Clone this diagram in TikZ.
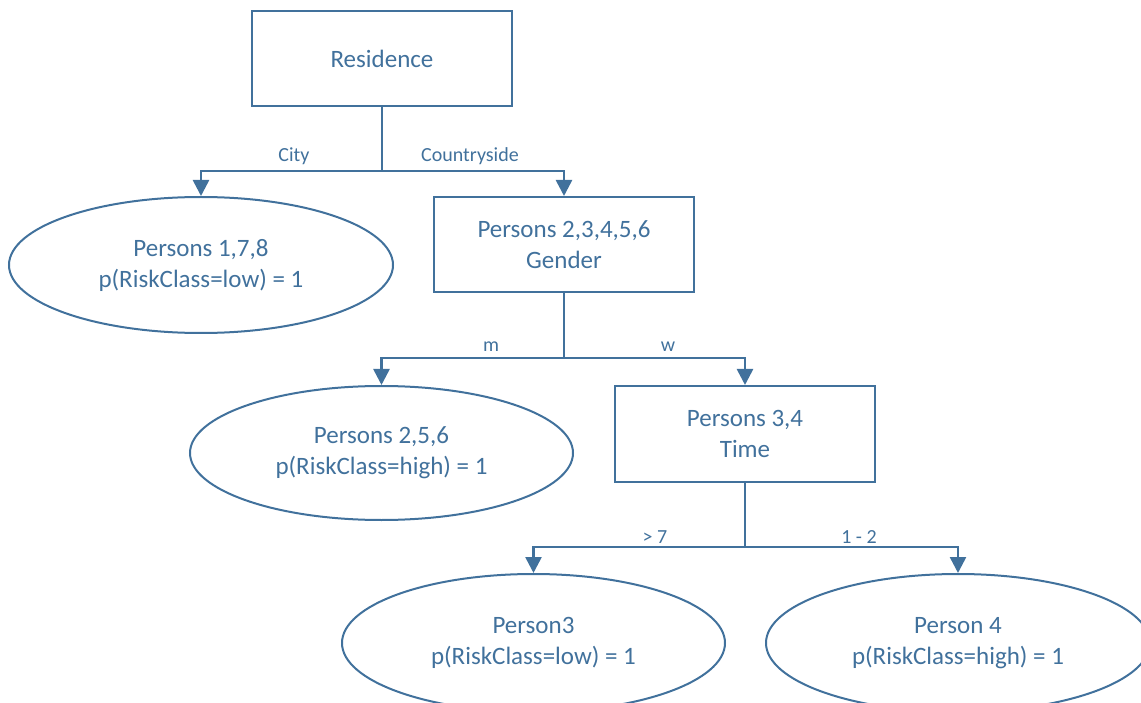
\documentclass[tikz,border=0pt]{standalone}
\usepackage{fontspec}
\setmainfont{Carlito}
\usetikzlibrary{shapes.geometric,arrows.meta}
\definecolor{treeblue}{HTML}{41719C}
\tikzset{
  boxnode/.style={draw=treeblue, line width=2pt, rectangle, minimum width=260pt,
    minimum height=95pt, align=center, text=treeblue, inner sep=0pt,
    font=\fontsize{25}{31}\selectfont},
  leafnode/.style={draw=treeblue, line width=2pt, ellipse, minimum width=384pt,
    minimum height=136pt, align=center, text=treeblue, inner sep=0pt,
    font=\fontsize{25}{31}\selectfont},
  conn/.style={draw=treeblue, line width=2.6pt,
    -{Triangle[width=16pt,length=16pt]}},
  trunk/.style={draw=treeblue, line width=2.6pt},
  edgelabel/.style={text=treeblue, inner sep=0pt, font=\fontsize{20}{24}\selectfont}
}
\begin{document}
\begin{tikzpicture}[x=1pt,y=-1pt]
  \useasboundingbox (0,0) rectangle (1141,703);
  \clip (0,0) rectangle (1141,703);

  % decision nodes
  \node[boxnode] (res) at (382,58.5) {Residence};
  \node[boxnode] (gen) at (564,244.5) {Persons 2,3,4,5,6\\Gender};
  \node[boxnode, minimum height=96pt] (tim) at (745,434) {Persons 3,4\\Time};

  % leaves
  \node[leafnode] (city) at (201,265) {Persons 1,7,8\\p(RiskClass=low) = 1};
  \node[leafnode, minimum width=383pt, minimum height=134pt] (male) at (381.5,453)
    {Persons 2,5,6\\p(RiskClass=high) = 1};
  \node[leafnode, minimum width=383pt, minimum height=138pt] (p3) at (533.5,643)
    {Person3\\p(RiskClass=low) = 1};
  \node[leafnode, minimum height=138pt] (p4) at (958,643)
    {Person 4\\p(RiskClass=high) = 1};

  % branch points
  \coordinate (j1) at (382,171);
  \coordinate (j2) at (564,358);
  \coordinate (j3) at (745,547);

  % connectors
  \draw[trunk] (res.south) -- (j1);
  \draw[conn] (j1) -| (city.north);
  \draw[conn] (j1) -| (gen.north);

  \draw[trunk] (gen.south) -- (j2);
  \draw[conn] (j2) -| (male.north);
  \draw[conn] (j2) -| (tim.north);

  \draw[trunk] (tim.south) -- (j3);
  \draw[conn] (j3) -| (p3.north);
  \draw[conn] (j3) -| (p4.north);

  % branch labels
  \node[edgelabel] (lcity) at (294,156) {City};
  \node[edgelabel] (lcountry) at (470,156) {Countryside};
  \node[edgelabel] (lm) at (491,347) {m};
  \node[edgelabel] (lw) at (668,347) {w};
  \node[edgelabel] (lgt) at (655,537) {> 7};
  \node[edgelabel] (lrange) at (859,537) {1 - 2};
\end{tikzpicture}
\end{document}
